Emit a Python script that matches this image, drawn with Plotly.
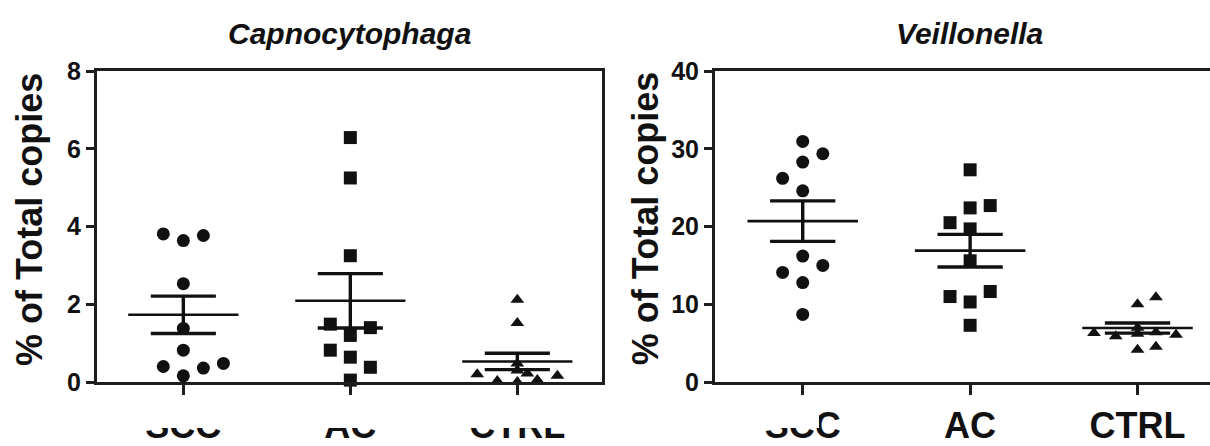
import plotly.graph_objects as go

# ---------------- data ----------------
categories = ["SCC", "AC", "CTRL"]

# Capnocytophaga (% of total copies)
capno_scc = [3.81, 3.64, 3.77, 2.53, 1.38, 0.82, 0.40, 0.36, 0.48, 0.16]
capno_ac = [6.29, 5.25, 3.25, 1.49, 1.40, 1.20, 0.82, 0.64, 0.38, 0.05]
capno_ctrl = [2.12, 1.52, 0.48, 0.30, 0.22, 0.20, 0.16, 0.05, 0.03, 0.00]
capno_mean = [1.73, 2.09, 0.53]
capno_sem = [0.48, 0.70, 0.21]

# Veillonella (% of total copies)
veil_scc = [30.95, 29.37, 28.3, 26.2, 24.6, 16.2, 15.0, 14.1, 12.8, 8.7]
veil_ac = [27.3, 22.4, 22.7, 20.5, 19.7, 15.6, 11.0, 10.3, 11.65, 7.3]
veil_ctrl = [10.9, 10.0, 6.3, 6.1, 5.9, 6.2, 6.4, 7.0, 4.55, 4.15]
veil_mean = [20.7, 16.9, 6.95]
veil_sem = [2.6, 2.1, 0.65]

# horizontal scatter offsets of the points (category units)
capno_scc_dx = [-0.12, 0, 0.12, 0, 0, 0, -0.12, 0.12, 0.24, 0]
capno_ac_dx = [0, 0, 0, -0.12, 0.12, 0, -0.12, 0, 0.12, 0]
capno_ctrl_dx = [0, 0, 0, 0, 0.06, -0.24, 0.24, 0.12, -0.12, 0]
veil_scc_dx = [0, 0.12, 0, -0.12, 0, 0, 0.12, -0.12, 0, 0]
veil_ac_dx = [0, 0, 0.12, -0.12, 0, 0, -0.12, 0, 0.12, 0]
veil_ctrl_dx = [0.11, 0, -0.26, 0.23, -0.13, 0, 0.11, 0, 0.11, 0]

y_ticks_capno = [0, 2, 4, 6, 8]
y_ticks_veil = [0, 10, 20, 30, 40]

# ---------------- styling ----------------
W, H = 1210, 446
FONT = "Liberation Sans, Arial, Helvetica, sans-serif"
INK = "#111111"
AXC = "#1e1e1e"
symbols = ["circle", "square", "triangle-up"]
msizes = [13, 13, 12]


def px_x(p):
    return p / W


def px_y(p):
    return 1 - p / H


fig = go.Figure()


def add_panel(groups, offsets, means, sems, xa, ya):
    for i, (vals, dx) in enumerate(zip(groups, offsets)):
        fig.add_trace(go.Scatter(
            x=[i + d for d in dx], y=vals, mode="markers",
            marker=dict(symbol=symbols[i], size=msizes[i], color=INK,
                        line=dict(width=0)),
            xaxis=xa, yaxis=ya, showlegend=False, cliponaxis=False,
            hoverinfo="y"))
    # mean lines
    mx, my = [], []
    for i, m in enumerate(means):
        mx += [i - 0.33, i + 0.33, None]
        my += [m, m, None]
    fig.add_trace(go.Scatter(x=mx, y=my, mode="lines",
                             line=dict(color=INK, width=2.6),
                             xaxis=xa, yaxis=ya, showlegend=False,
                             cliponaxis=False, hoverinfo="skip"))
    # SEM bars with caps
    ex, ey = [], []
    for i, (m, s) in enumerate(zip(means, sems)):
        ex += [i, i, None, i - 0.195, i + 0.195, None, i - 0.195, i + 0.195, None]
        ey += [m - s, m + s, None, m + s, m + s, None, m - s, m - s, None]
    fig.add_trace(go.Scatter(x=ex, y=ey, mode="lines",
                             line=dict(color=INK, width=3.4),
                             xaxis=xa, yaxis=ya, showlegend=False,
                             cliponaxis=False, hoverinfo="skip"))


add_panel([capno_scc, capno_ac, capno_ctrl],
          [capno_scc_dx, capno_ac_dx, capno_ctrl_dx],
          capno_mean, capno_sem, "x", "y")
add_panel([veil_scc, veil_ac, veil_ctrl],
          [veil_scc_dx, veil_ac_dx, veil_ctrl_dx],
          veil_mean, veil_sem, "x2", "y2")

ydom = [px_y(396.5), px_y(61.5)]
tickfont = dict(family=FONT, size=25, color=INK, weight="bold")
catfont = dict(family=FONT, size=36, color=INK, weight="bold")

xcommon = dict(tickmode="array", tickvals=[0, 1, 2], ticktext=categories,
               showline=True, linecolor=AXC, linewidth=3, ticks="outside",
               ticklen=10, tickwidth=2.5, tickcolor=AXC, showgrid=False,
               zeroline=False, tickfont=catfont, fixedrange=True)
ycommon = dict(showline=True, linecolor=AXC, linewidth=3, ticks="outside",
               ticklen=8, tickwidth=2.5, tickcolor=AXC, showgrid=False,
               zeroline=False, tickfont=tickfont, fixedrange=True)

fig.update_layout(
    width=W, height=H,
    margin=dict(l=0, r=0, t=0, b=0),
    paper_bgcolor="white", plot_bgcolor="white",
    xaxis=dict(domain=[px_x(97), px_x(602)], range=[-0.517, 2.507],
               mirror=True, anchor="y", **xcommon),
    yaxis=dict(domain=ydom, range=[0, 8], tickvals=y_ticks_capno,
               mirror=True, anchor="x", **ycommon),
    xaxis2=dict(domain=[px_x(715), 1.0], range=[-0.524, 2.433],
                mirror=True, anchor="y2", **xcommon),
    yaxis2=dict(domain=ydom, range=[0, 40], tickvals=y_ticks_veil,
                mirror=False, anchor="x2", **ycommon),
    annotations=[
        dict(text="<b><i>Capnocytophaga</i></b>", x=px_x(349.5), y=px_y(21),
             xref="paper", yref="paper", xanchor="center", yanchor="middle",
             showarrow=False, font=dict(family=FONT, size=30, color=INK)),
        dict(text="<b><i>Veillonella</i></b>", x=px_x(969), y=px_y(21),
             xref="paper", yref="paper", xanchor="center", yanchor="middle",
             showarrow=False, font=dict(family=FONT, size=30, color=INK)),
        dict(text="<b>% of Total copies</b>", x=px_x(29), y=px_y(222),
             xref="paper", yref="paper", xanchor="center", yanchor="middle",
             textangle=-90, showarrow=False,
             font=dict(family=FONT, size=36, color=INK)),
        dict(text="<b>% of Total copies</b>", x=px_x(645), y=px_y(221),
             xref="paper", yref="paper", xanchor="center", yanchor="middle",
             textangle=-90, showarrow=False,
             font=dict(family=FONT, size=36, color=INK)),
    ],
    shapes=[
        dict(type="rect", xref="paper", yref="paper",
             x0=0, x1=px_x(819), y0=0, y1=px_y(427),
             fillcolor="white", line=dict(width=0), layer="above"),
    ],
)

# remove the browser's default 8px page margin so the figure sits at (0,0)
fig.write_html(
    "out.html",
    config={"displayModeBar": False},
    post_script="document.body.style.margin='0';document.body.style.overflow='hidden';",
)
